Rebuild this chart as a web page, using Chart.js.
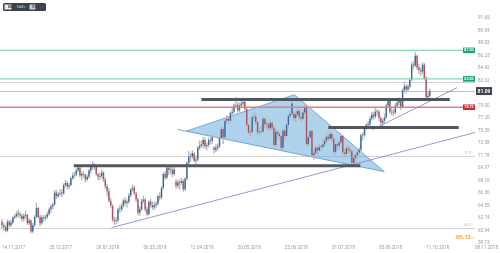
<!DOCTYPE html>
<html>
<head>
<meta charset="utf-8">
<script src="https://cdn.jsdelivr.net/npm/chart.js@4.4.1/dist/chart.umd.min.js"></script>
<style>
  html, body { margin: 0; padding: 0; background: #fff; overflow: hidden; }
  canvas { display: block; }
</style>
</head>
<body>
<canvas id="chart" width="500" height="253"></canvas>
<script>
// OIL, D1 - one candle per trading day from 14.11.2017
const opens = [
  62.2, 61.7, 61.4, 60.9, 62.2, 61.7, 62.1, 62.8, 63.0, 63.3, 63.3, 63.1, 62.6,
  63.0, 63.2, 62.0, 62.4, 60.8, 61.7, 62.9, 64.2, 62.9, 62.0, 62.8, 62.7, 62.9, 63.3, 64.0, 64.4, 64.7, 66.4, 65.9, 66.2,
  66.3, 66.3, 67.5, 67.8, 67.3, 67.5, 68.5, 68.9, 69.0, 69.6, 70.0, 68.9, 69.1, 69.0, 68.3, 68.7, 69.6, 70.2, 70.1, 70.2, 69.1, 68.7,
  68.8, 69.3, 68.3, 67.3, 66.6, 65.2, 64.5, 62.5, 62.3, 62.4, 64.0, 64.0, 64.5, 65.3, 64.9, 65.1, 66.0, 66.9, 67.1, 66.3,
  65.4, 63.5, 64.0, 65.2, 65.4, 64.0, 63.3, 65.1, 64.6, 64.3, 64.6, 64.8, 65.9, 65.7, 67.1, 69.1, 68.6, 70.0, 69.7, 69.7, 69.1,
  68.0, 67.4, 67.9, 67.8, 68.1, 66.9, 68.4, 70.7, 71.6, 71.6, 72.1, 71.0, 71.2, 72.9, 73.2, 73.4, 74.0, 73.1, 73.3, 74.0, 73.9,
  72.9, 72.6, 72.9, 73.1, 74.3, 75.6, 74.4, 76.8, 77.1, 76.8, 77.9, 78.1, 79.0, 79.1, 78.3, 79.0, 79.3, 79.5, 78.5, 76.2, 75.1, 75.2, 77.3,
  77.4, 76.6, 75.1, 75.2, 75.2, 77.1, 76.3, 76.3, 75.7, 76.5, 75.8, 73.3, 75.2, 74.9, 74.6, 72.9, 75.4, 74.6, 76.2, 77.5, 77.8,
  77.8, 77.2, 77.7, 78.2, 77.3, 77.1, 78.0, 78.8, 73.4, 74.4, 75.3, 71.8, 72.1, 72.9, 72.5, 73.0, 73.0, 73.4, 73.9, 74.5, 74.2, 74.9,
  74.2, 72.3, 73.4, 73.2, 73.7, 74.6, 72.2, 72.0, 72.8, 72.6, 72.4, 70.7, 71.4, 71.8, 72.2, 72.6, 74.7, 74.7, 75.8, 76.2, 76.3, 77.1, 77.7,
  77.4, 78.1, 78.1, 77.2, 76.5, 76.8, 77.3, 79.0, 79.7, 78.1, 78.0, 78.0, 79.0, 79.4, 79.7, 78.8, 81.2, 81.8, 81.3, 81.7,
  82.7, 84.9, 84.8, 86.2, 84.5, 84.1, 83.9, 84.9, 83.0, 80.2, 80.4
];
const highs = [
  62.6, 62.0, 61.7, 62.5, 62.4, 62.4, 63.0, 63.3, 63.7, 63.9, 63.6, 63.3, 63.4,
  63.8, 63.3, 62.7, 62.5, 62.0, 63.1, 64.9, 64.3, 63.2, 63.1, 63.1, 63.2, 63.6, 64.2, 64.6, 64.9, 66.7, 66.8, 66.5, 66.8,
  66.9, 67.7, 68.2, 68.0, 67.8, 68.7, 69.3, 69.4, 69.9, 70.4, 70.1, 69.4, 69.5, 69.1, 69.0, 69.8, 70.4, 70.9, 70.6, 70.3, 69.2, 69.3,
  69.7, 69.5, 68.5, 67.6, 67.0, 65.6, 64.7, 62.9, 62.8, 64.2, 64.6, 64.9, 65.5, 65.7, 65.4, 66.3, 67.0, 67.5, 67.4, 66.5,
  65.6, 64.4, 65.5, 65.9, 65.6, 64.3, 65.3, 65.5, 65.1, 65.0, 65.1, 66.1, 66.4, 67.3, 69.3, 69.5, 70.3, 70.3, 70.1, 70.0, 70.1,
  68.3, 68.2, 68.3, 68.5, 68.3, 68.6, 70.9, 72.4, 72.1, 72.5, 72.2, 71.7, 73.1, 73.9, 73.9, 74.4, 74.3, 73.6, 74.3, 74.4, 74.7,
  73.1, 73.4, 73.5, 74.6, 76.0, 75.8, 77.1, 77.6, 77.3, 78.1, 78.6, 79.2, 80.2, 79.4, 79.4, 79.8, 80.1, 79.7, 78.6, 76.3, 75.6, 77.5, 78.0,
  77.8, 76.7, 75.8, 76.0, 77.3, 77.2, 76.8, 76.5, 76.9, 76.6, 76.0, 75.5, 75.4, 75.3, 74.8, 75.6, 75.5, 76.4, 77.7, 78.2, 79.6,
  78.1, 78.0, 78.5, 78.4, 77.8, 78.3, 79.4, 78.9, 74.7, 75.5, 75.4, 72.6, 73.2, 73.0, 73.4, 73.3, 74.1, 74.2, 74.8, 75.0, 75.3, 75.1,
  74.4, 73.6, 73.7, 74.0, 74.9, 74.7, 72.6, 73.0, 73.2, 73.0, 72.6, 71.8, 72.0, 72.5, 72.9, 74.9, 75.1, 76.0, 76.4, 76.7, 77.4, 78.0, 78.1,
  78.6, 78.4, 78.3, 77.4, 77.1, 77.8, 79.2, 80.1, 79.8, 78.6, 78.4, 79.3, 79.8, 80.1, 79.9, 81.4, 82.4, 82.0, 82.1, 83.0,
  85.2, 85.4, 86.7, 86.3, 85.0, 84.5, 85.2, 85.1, 83.2, 81.1, 81.4
];
const lows = [
  61.3, 61.0, 60.7, 60.8, 61.4, 61.5, 61.9, 62.6, 62.8, 62.9, 62.7, 62.2, 62.3,
  62.7, 61.8, 61.7, 60.6, 60.6, 61.5, 62.8, 62.7, 61.6, 61.8, 62.3, 62.4, 62.7, 63.1, 63.6, 64.1, 64.6, 65.5, 65.7, 65.9,
  65.8, 66.1, 67.2, 66.9, 67.0, 67.4, 68.3, 68.5, 68.8, 69.4, 68.6, 68.2, 68.6, 67.9, 68.1, 68.5, 69.2, 69.8, 69.7, 68.9, 68.2, 68.3,
  68.5, 68.0, 67.0, 65.9, 65.0, 64.2, 62.2, 61.8, 61.9, 62.1, 63.6, 63.7, 64.3, 64.6, 64.3, 64.8, 65.8, 66.6, 66.1, 65.1,
  63.2, 63.1, 63.8, 64.9, 63.7, 63.0, 63.2, 64.3, 64.0, 63.9, 64.2, 64.6, 65.3, 65.5, 66.9, 68.3, 68.4, 69.0, 69.2, 68.7, 68.9,
  67.0, 67.1, 66.9, 67.5, 66.6, 66.7, 68.2, 70.5, 70.9, 71.3, 70.8, 70.6, 71.0, 72.6, 72.9, 72.9, 72.8, 72.6, 73.0, 73.4, 73.5,
  72.1, 72.3, 72.5, 72.9, 74.2, 73.5, 74.3, 76.6, 76.4, 76.6, 77.6, 77.9, 78.8, 78.0, 78.1, 78.8, 78.9, 78.3, 75.9, 74.8, 74.6, 75.0, 76.9,
  76.2, 74.8, 74.7, 74.9, 75.0, 75.8, 75.6, 75.3, 75.4, 75.5, 72.9, 73.0, 74.1, 74.2, 72.6, 72.7, 74.0, 74.5, 75.8, 77.2, 77.6,
  76.8, 76.6, 77.5, 77.0, 76.6, 76.9, 77.7, 73.2, 73.1, 74.1, 71.6, 71.2, 71.9, 71.9, 72.2, 72.4, 72.8, 73.1, 73.6, 73.9, 74.0, 73.8,
  72.1, 71.7, 72.8, 72.7, 73.5, 71.9, 71.6, 71.8, 72.2, 71.9, 70.3, 70.5, 70.9, 71.4, 71.8, 72.4, 74.0, 74.5, 75.5, 75.8, 76.0, 76.9, 77.0,
  77.2, 77.6, 76.8, 75.9, 76.1, 76.5, 77.1, 78.8, 77.8, 77.6, 77.5, 77.8, 78.7, 79.0, 78.4, 78.8, 80.9, 80.8, 81.0, 81.5,
  82.6, 84.3, 84.6, 84.2, 83.6, 83.3, 83.6, 82.7, 79.9, 79.9, 80.2
];
const closes = [
  61.7, 61.4, 60.9, 62.2, 61.7, 62.1, 62.8, 63.0, 63.3, 63.3, 63.1, 62.6, 63.0,
  63.2, 62.0, 62.4, 60.8, 61.7, 62.9, 64.2, 62.9, 62.0, 62.8, 62.7, 62.9, 63.3, 64.0, 64.4, 64.7, 66.4, 65.9, 66.2, 66.3,
  66.3, 67.5, 67.8, 67.3, 67.5, 68.5, 68.9, 69.0, 69.6, 70.0, 68.9, 69.1, 69.0, 68.3, 68.7, 69.6, 70.2, 70.1, 70.2, 69.1, 68.7, 68.8,
  69.3, 68.3, 67.3, 66.6, 65.2, 64.5, 62.5, 62.3, 62.4, 64.0, 64.0, 64.5, 65.3, 64.9, 65.1, 66.0, 66.9, 67.1, 66.3, 65.4,
  63.5, 64.0, 65.2, 65.4, 64.0, 63.3, 65.1, 64.6, 64.3, 64.6, 64.8, 65.9, 65.7, 67.1, 69.1, 68.6, 70.0, 69.7, 69.7, 69.1, 69.8,
  67.4, 67.9, 67.8, 68.1, 66.9, 68.4, 70.7, 71.6, 71.6, 72.1, 71.0, 71.2, 72.9, 73.2, 73.4, 74.0, 73.1, 73.3, 74.0, 73.9, 74.4,
  72.6, 72.9, 73.1, 74.3, 75.6, 74.4, 76.8, 77.1, 76.8, 77.9, 78.1, 79.0, 79.1, 78.3, 79.0, 79.3, 79.5, 78.5, 76.2, 75.1, 75.2, 77.3, 77.4,
  76.6, 75.1, 75.2, 75.2, 77.1, 76.3, 76.3, 75.7, 76.5, 75.8, 73.3, 75.2, 74.9, 74.6, 72.9, 75.4, 74.6, 76.2, 77.5, 77.8, 79.3,
  77.2, 77.7, 78.2, 77.3, 77.1, 78.0, 78.8, 73.4, 74.4, 75.3, 71.8, 72.1, 72.9, 72.5, 73.0, 73.0, 73.4, 73.9, 74.5, 74.2, 74.9, 74.2,
  72.3, 73.4, 73.2, 73.7, 74.6, 72.2, 72.0, 72.8, 72.6, 72.4, 70.7, 71.4, 71.8, 72.2, 72.6, 74.7, 74.7, 75.8, 76.2, 76.3, 77.1, 77.7, 77.4,
  78.1, 78.1, 77.2, 76.5, 76.8, 77.3, 79.0, 79.7, 78.1, 78.0, 78.0, 79.0, 79.4, 79.7, 78.8, 81.2, 81.8, 81.3, 81.7, 82.7,
  84.9, 84.8, 86.2, 84.5, 84.1, 83.9, 84.9, 83.0, 80.2, 80.4, 81.1
];

const xTickIdx = [0, 26, 52, 78, 104, 130, 156, 182, 208, 234, 260.9];
const xTickLabels = ["14.11.2017", "20.12.2017", "29.01.2018", "06.03.2018", "12.04.2018", "20.05.2018",
  "25.06.2018", "31.07.2018", "05.09.2018", "11.10.2018", "08.11.2018"];
const yTicks = [91.65, 89.84, 88.03, 86.23, 84.42, 82.62, 79.00, 77.20, 75.39, 73.58, 71.78, 69.97,
  68.16, 66.36, 64.55, 62.74, 60.94, 59.13];

// drawn levels and tools
const lastPrice = 81.09;
const greenLevels = [86.97, 82.85];
const greenTags = ["87.00", "82.85"];
const redLevels = [78.75];
const redTags = ["78.75"];
const greyLevels = [82.42, 71.75, 61.35];
const greyTags = ["", "71.9", "61.3"];
const zoneLevels = [79.87, 75.84, 70.30];
const zoneFrom = [110, 180, 39.6];
const zoneTo = [247, 252, 197.7];
const trendFrom = [[60.4, 61.35], [204.3, 75.5]];
const trendTo = [[261, 75.1], [251.1, 81.58]];
const triangle = [[101.6, 75.29], [161.3, 80.57], [210.9, 69.44]];
const triangleTail = [97.0, 75.54];
const timerText = ["05", "h ", "13", "m"];

const upColor = "#34679a";
const downColor = "#b04f5a";

const bodyData = opens.map((o, i) => ({ x: i, y: [o, closes[i]] }));
const wickData = highs.map((h, i) => ({ x: i, y: [lows[i], h] }));

const drawings = {
  id: "drawings",
  beforeDatasetsDraw(chart) {
    const { ctx, chartArea: a, scales: { x, y } } = chart;
    ctx.save();
    ctx.beginPath();
    ctx.rect(a.left, a.top, a.right - a.left, a.bottom - a.top);
    ctx.clip();
    // thin grey levels and last price line
    ctx.lineWidth = 1;
    greyLevels.concat([lastPrice]).forEach((v, k) => {
      const py = Math.round(y.getPixelForValue(v)) + 0.5;
      ctx.strokeStyle = k === greyLevels.length ? "#bfc3c6" : "#d3d3d3";
      ctx.beginPath(); ctx.moveTo(a.left, py); ctx.lineTo(a.right, py); ctx.stroke();
    });
    // triangle
    ctx.beginPath();
    triangle.forEach(([i, v], k) => {
      const px = x.getPixelForValue(i), py = y.getPixelForValue(v);
      k ? ctx.lineTo(px, py) : ctx.moveTo(px, py);
    });
    ctx.closePath();
    ctx.fillStyle = "rgba(95,165,220,0.5)";
    ctx.fill();
    ctx.strokeStyle = "#5a96c8";
    ctx.lineWidth = 0.8;
    ctx.stroke();
    ctx.beginPath();
    ctx.moveTo(x.getPixelForValue(triangleTail[0]), y.getPixelForValue(triangleTail[1]));
    ctx.lineTo(x.getPixelForValue(triangle[0][0]), y.getPixelForValue(triangle[0][1]));
    ctx.stroke();
    ctx.restore();
  },
  afterDatasetsDraw(chart) {
    const { ctx, chartArea: a, scales: { x, y } } = chart;
    ctx.save();
    // green / red levels
    const lvl = (vals, color, w) => vals.forEach(v => {
      const py = y.getPixelForValue(v);
      ctx.strokeStyle = color; ctx.lineWidth = w;
      ctx.beginPath(); ctx.moveTo(a.left, py); ctx.lineTo(a.right, py); ctx.stroke();
    });
    lvl(greenLevels, "#86d9b6", 1.4);
    lvl(redLevels, "#e07e80", 1.3);
    // trend lines
    ctx.strokeStyle = "#7f7fd0";
    ctx.lineWidth = 0.8;
    trendFrom.forEach((p, k) => {
      ctx.beginPath();
      ctx.moveTo(x.getPixelForValue(p[0]), y.getPixelForValue(p[1]));
      ctx.lineTo(x.getPixelForValue(trendTo[k][0]), y.getPixelForValue(trendTo[k][1]));
      ctx.stroke();
    });
    // thick zones
    ctx.strokeStyle = "#50575e";
    ctx.lineWidth = 3;
    zoneLevels.forEach((v, k) => {
      const py = y.getPixelForValue(v);
      ctx.beginPath();
      ctx.moveTo(x.getPixelForValue(zoneFrom[k]), py);
      ctx.lineTo(x.getPixelForValue(zoneTo[k]), py);
      ctx.stroke();
    });
    // tags at right edge
    const tag = (v, txt, color) => {
      const py = y.getPixelForValue(v);
      ctx.fillStyle = color;
      ctx.fillRect(a.right - 12, py - 2.8, 12, 5.6);
      ctx.fillStyle = "#fff";
      ctx.font = "bold 3.6px Roboto";
      ctx.textAlign = "center"; ctx.textBaseline = "middle";
      ctx.fillText(txt, a.right - 6, py + 0.2);
    };
    greenLevels.forEach((v, k) => tag(v, greenTags[k], "#19a67a"));
    redLevels.forEach((v, k) => tag(v, redTags[k], "#c62f33"));
    ctx.fillStyle = "#a8a8a8";
    ctx.font = "3.4px Roboto";
    ctx.textAlign = "right"; ctx.textBaseline = "bottom";
    greyLevels.forEach((v, k) => {
      if (greyTags[k]) ctx.fillText(greyTags[k], a.right - 4, y.getPixelForValue(v) - 1);
    });
    ctx.restore();
  },
  afterDraw(chart) {
    const { ctx, chartArea: a, scales: { y } } = chart;
    ctx.save();
    // last price box on the axis
    const py = y.getPixelForValue(lastPrice);
    ctx.fillStyle = "#3c434a";
    ctx.fillRect(a.right + 1, py - 4, 16, 8);
    ctx.fillStyle = "#fff";
    ctx.font = "bold 5px Roboto";
    ctx.textAlign = "center"; ctx.textBaseline = "middle";
    ctx.fillText(lastPrice.toFixed(2), a.right + 9, py + 0.3);
    // candle timer
    ctx.textAlign = "left";
    let tx = a.right - 19;
    timerText.forEach((t, k) => {
      ctx.font = (k % 2 ? "4px" : "bold 5px") + " Roboto";
      ctx.fillStyle = k % 2 ? "#f7c27a" : "#f39a22";
      ctx.fillText(t, tx, 237.5);
      tx += ctx.measureText(t).width;
    });
    // toolbar
    ctx.fillStyle = "#3b4249";
    ctx.beginPath();
    ctx.roundRect(3, 3, 43, 8, 1.5);
    ctx.fill();
    ctx.fillStyle = "#e9eaeb";
    ctx.fillRect(4.5, 4.5, 7, 5);
    ctx.fillStyle = "#c9cccf";
    ctx.fillRect(29.5, 4.5, 6, 5);
    ctx.font = "bold 3px Roboto";
    ctx.fillStyle = "#2b3035";
    ctx.fillText("OIL", 8, 7.2);
    ctx.fillText("D1", 32.5, 7.2);
    ctx.fillStyle = "#b9bec2";
    ctx.fillText("1440", 16.5, 7.2);
    ctx.fillText("\u25BE", 23.5, 7.2);
    ctx.fillText("\u25A1", 40.5, 7.2);
    ctx.restore();
  }
};

Chart.defaults.font.family = "Roboto";
Chart.defaults.color = "#9a9a9a";

new Chart(document.getElementById("chart"), {
  type: "bar",
  data: {
    datasets: [
      {
        data: bodyData,
        grouped: false,
        backgroundColor: ctx => closes[ctx.dataIndex] >= opens[ctx.dataIndex] ? upColor : downColor,
        barPercentage: 0.75,
        categoryPercentage: 1,
        minBarLength: 0.8,
        borderWidth: 0
      },
      {
        data: wickData,
        grouped: false,
        backgroundColor: "#b7b9bb",
        barThickness: 0.7,
        borderWidth: 0
      }
    ]
  },
  options: {
    responsive: false,
    animation: false,
    events: [],
    layout: { padding: { top: 18, left: 0, right: 0, bottom: 0 } },
    plugins: { legend: { display: false }, tooltip: { enabled: false } },
    scales: {
      x: {
        type: "linear",
        min: -1.1,
        max: 260.95,
        offset: false,
        grid: { display: false, drawTicks: false },
        border: { display: false },
        afterBuildTicks: s => { s.ticks = xTickIdx.map(v => ({ value: v })); },
        afterFit: s => { s.height = 10; },
        ticks: {
          autoSkip: false,
          maxRotation: 0,
          align: "start",
          padding: 2,
          font: { size: 4.6 },
          callback: (v, i) => xTickLabels[i]
        }
      },
      y: {
        position: "right",
        min: 59.13,
        max: 91.65,
        grid: { display: false, drawTicks: false },
        border: { display: false },
        afterBuildTicks: s => { s.ticks = yTicks.map(v => ({ value: v })); },
        afterFit: s => { s.width = 24; },
        ticks: {
          autoSkip: false,
          padding: 3,
          font: { size: 4.6 },
          callback: v => v.toFixed(2)
        }
      }
    }
  },
  plugins: [drawings]
});
</script>
</body>
</html>
